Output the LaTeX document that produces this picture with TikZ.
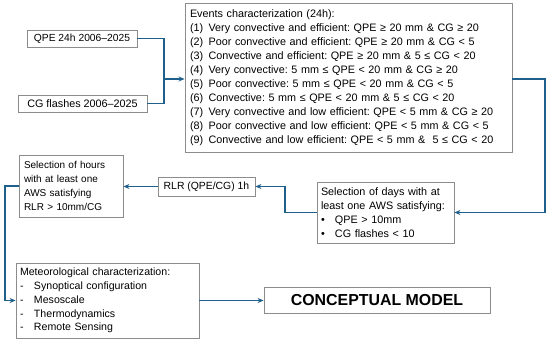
\documentclass[tikz,border=0pt]{standalone}
\usepackage{fontspec}
\setmainfont{Liberation Sans}
\usetikzlibrary{arrows.meta}
\definecolor{conn}{HTML}{1F5F8B}
\definecolor{bord}{HTML}{8C8C8C}
\tikzset{
  box/.style={draw=bord, line width=0.9pt, inner sep=0pt, align=left, font=\fontsize{10}{14}\selectfont},
  conn/.style={draw=conn, line width=1.8pt},
  arr/.style={conn, -{Stealth[length=6pt,width=5pt]}},
}
\newcommand{\itm}[2]{\makebox[14pt][l]{#1}#2}
\begin{document}
\frenchspacing
\begin{tikzpicture}[x=1pt,y=-1pt]
\useasboundingbox (0,0) rectangle (550,343);
\node[box, minimum width=327, minimum height=149, text width=317, font=\fontsize{10.8}{14}\selectfont] (ev) at (348.5,78) {Events characterization (24h):\\
(1)\, Very convective and efficient: QPE ≥ 20 mm \& CG ≥ 20\\
(2)\, Poor convective and efficient: QPE ≥ 20 mm \& CG < 5\\
(3)\, Convective and efficient: QPE ≥ 20 mm \& 5 ≤ CG < 20\\
(4)\, Very convective: 5 mm ≤ QPE < 20 mm \& CG ≥ 20\\
(5)\, Poor convective: 5 mm ≤ QPE < 20 mm \& CG < 5\\
(6)\, Convective: 5 mm ≤ QPE < 20 mm \& 5 ≤ CG < 20\\
(7)\, Very convective and low efficient: QPE < 5 mm \& CG ≥ 20\\
(8)\, Poor convective and low efficient: QPE < 5 mm \& CG < 5\\
(9)\, Convective and low efficient: QPE < 5 mm \&\ \ 5 ≤ CG < 20};
\node[box, minimum width=110, minimum height=17, align=center, font=\fontsize{10.3}{14}\selectfont] (qpe) at (82,38.5) {QPE 24h 2006–2025};
\node[box, minimum width=129, minimum height=17, align=center, font=\fontsize{10.8}{14}\selectfont] (cg) at (82.5,103.5) {CG flashes 2006–2025};
\node[box, minimum width=137, minimum height=61, text width=129, font=\fontsize{10.8}{14}\selectfont] (days) at (385.5,212.5) {Selection of days with at\\least one AWS satisfying:\\
\itm{•}{QPE > 10mm}\\\itm{•}{CG flashes < 10}};
\node[box, minimum width=97, minimum height=19, align=center, font=\fontsize{10.4}{14}\selectfont] (rlr) at (206.5,186.5) {RLR (QPE/CG) 1h};
\node[box, minimum width=104, minimum height=62, text width=94] (hours) at (71,186) {Selection of hours\\with at least one\\AWS satisfying\\RLR > 10mm/CG};
\node[box, minimum width=183, minimum height=75, text width=175, font=\fontsize{10.6}{13.8}\selectfont] (met) at (107.5,300.5) {Meteorological characterization:\\
\itm{-}{Synoptical configuration}\\\itm{-}{Mesoscale}\\\itm{-}{Thermodynamics}\\\itm{-}{Remote Sensing}};
\node[box, minimum width=226, minimum height=26, align=center, font=\fontsize{15.9}{20}\selectfont\bfseries] (cm) at (377,300) {CONCEPTUAL MODEL};
\coordinate (j) at (164,79);
\draw[conn] (qpe.east) -| (j);
\draw[conn] (cg.east) -| (j);
\draw[arr] (j) -- (ev.west |- j);
\draw[arr] (ev.east |- j) -- (545,79) |- (days.east);
\draw[arr] (days.west) -- (285,212.5) |- (rlr.east);
\draw[arr] (rlr.west) -- (hours.east |- rlr.west);
\draw[arr] (hours.west) -- (5,186) |- (met.west);
\draw[arr] (met.east) -- (cm.west |- met.east);
\end{tikzpicture}
\end{document}
